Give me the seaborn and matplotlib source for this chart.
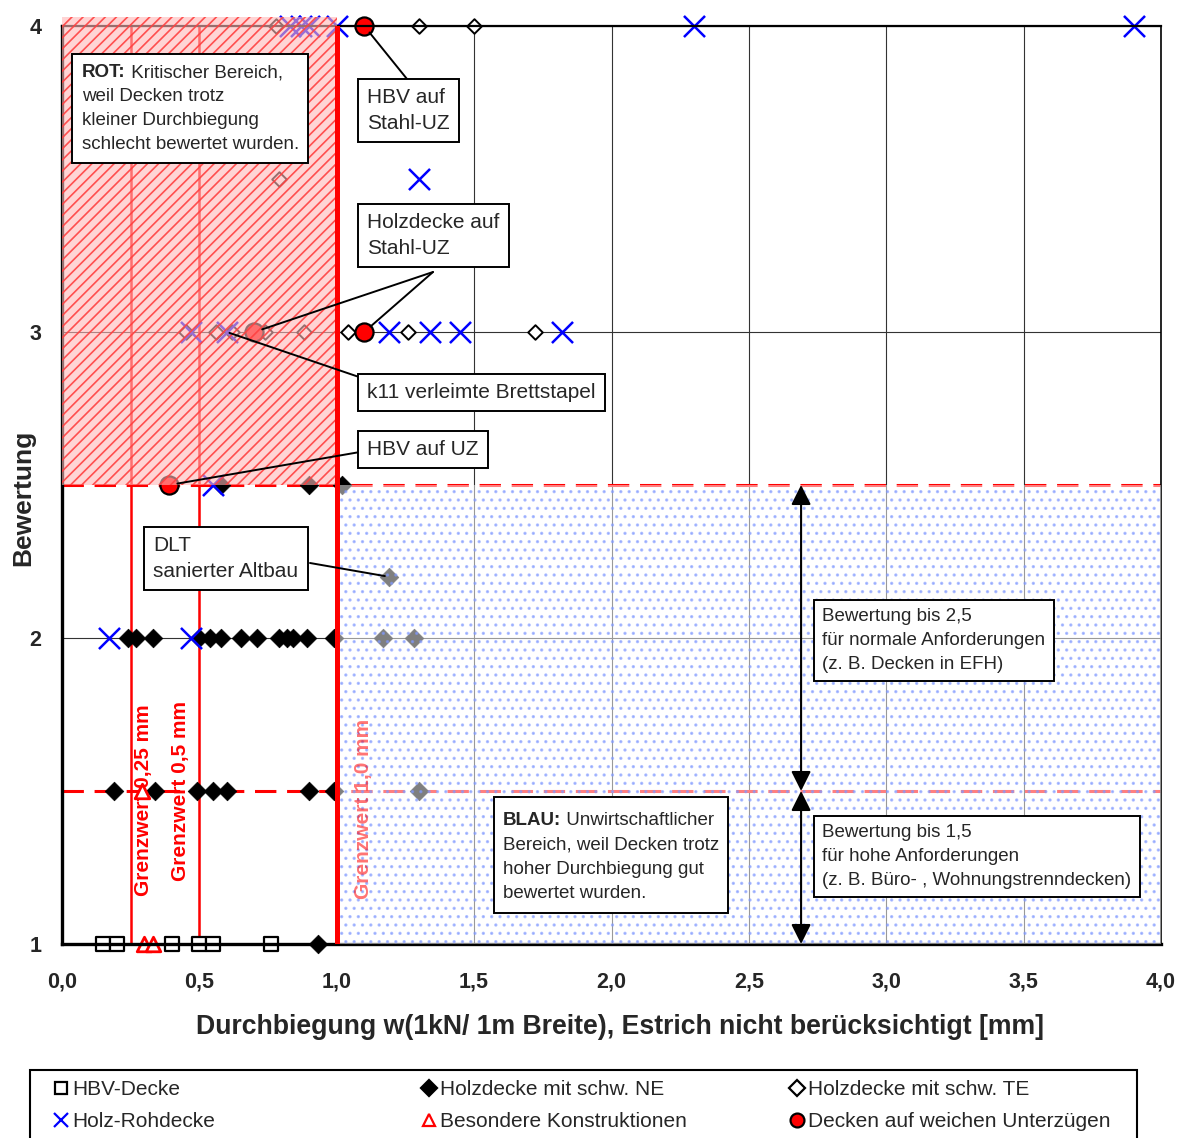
import pandas as pd
import matplotlib
matplotlib.use('Agg')
import matplotlib.pyplot as plt
from matplotlib.patches import Rectangle
from matplotlib.lines import Line2D
from matplotlib.ticker import MultipleLocator, FuncFormatter
import seaborn as sns

# Durchbiegung w [mm] und Bewertung je Deckentyp
hbv_w = [0.15, 0.20, 0.40, 0.50, 0.55, 0.76]
hbv_b = [1, 1, 1, 1, 1, 1]

ne_w = [0.58, 0.90, 1.02, 1.19,
        0.24, 0.27, 0.33, 0.50, 0.54, 0.58, 0.65, 0.71, 0.79, 0.82, 0.84, 0.89, 0.99, 1.17, 1.28,
        0.19, 0.34, 0.49, 0.55, 0.60, 0.90, 0.99, 1.30,
        0.93]
ne_b = [2.5, 2.5, 2.5, 2.2,
        2, 2, 2, 2, 2, 2, 2, 2, 2, 2, 2, 2, 2, 2, 2,
        1.5, 1.5, 1.5, 1.5, 1.5, 1.5, 1.5, 1.5,
        1]

te_w = [0.78, 1.30, 1.50, 0.79, 0.45, 0.56, 0.62, 0.74, 0.88, 1.04, 1.26, 1.72]
te_b = [4, 4, 4, 3.5, 3, 3, 3, 3, 3, 3, 3, 3]

roh_w = [0.83, 0.87, 0.90, 1.00, 2.30, 3.90, 1.30, 0.47, 0.60, 1.19, 1.34, 1.45, 1.82, 0.55, 0.17, 0.47]
roh_b = [4, 4, 4, 4, 4, 4, 3.5, 3, 3, 3, 3, 3, 3, 2.5, 2, 2]

bes_w = [0.30, 0.33, 0.29]
bes_b = [1, 1, 1.5]

uz_w = [1.10, 0.70, 1.10, 0.39]
uz_b = [4, 3, 3, 2.5]

grenzwerte = [0.25, 0.5, 1.0]
grenz_labels = ['Grenzwert 0,25 mm', 'Grenzwert 0,5 mm', 'Grenzwert 1,0 mm']
bewertung_grenzen = [2.5, 1.5]

typen = ['HBV-Decke', 'Holzdecke mit schw. NE', 'Holzdecke mit schw. TE',
         'Holz-Rohdecke', 'Besondere Konstruktionen', 'Decken auf weichen Unterzügen']

df = pd.concat([
    pd.DataFrame({'w': hbv_w, 'b': hbv_b, 'typ': typen[0]}),
    pd.DataFrame({'w': ne_w, 'b': ne_b, 'typ': typen[1]}),
    pd.DataFrame({'w': te_w, 'b': te_b, 'typ': typen[2]}),
    pd.DataFrame({'w': roh_w, 'b': roh_b, 'typ': typen[3]}),
    pd.DataFrame({'w': bes_w, 'b': bes_b, 'typ': typen[4]}),
    pd.DataFrame({'w': uz_w, 'b': uz_b, 'typ': typen[5]}),
], ignore_index=True)

sns.set_theme(style='white')
plt.rcParams['font.family'] = ['Liberation Sans', 'DejaVu Sans']
plt.rcParams['hatch.linewidth'] = 1.2

W, H = 1182, 1138
fig = plt.figure(figsize=(W / 100, H / 100), dpi=100)
ax = fig.add_axes([62 / W, 1 - 944 / H, 1099 / W, 918 / H])


def px(xp, yp):
    # Pixel im Bild -> Datenkoordinaten
    return (xp - 62) / 274.75, 1 + (944 - yp) / 306


# Punktstile
stile = {
    typen[0]: dict(marker='s', color='white', edgecolor='black', s=90, linewidth=1.6),
    typen[1]: dict(marker='D', color='black', edgecolor='black', s=90, linewidth=0.5),
    typen[2]: dict(marker='D', color='white', edgecolor='black', s=55, linewidth=1.4),
    typen[3]: dict(marker='x', color='blue', s=230, linewidth=1.8),
    typen[4]: dict(marker='^', color='white', edgecolor='red', s=110, linewidth=2),
    typen[5]: dict(marker='o', color='red', edgecolor='black', s=170, linewidth=1.6),
}
for t in typen:
    sns.scatterplot(data=df[df.typ == t], x='w', y='b', ax=ax, clip_on=False,
                    zorder=2, legend=False, **stile[t])

ax.set_xlim(0, 4)
ax.set_ylim(1, 4)
ax.xaxis.set_major_locator(MultipleLocator(0.5))
ax.yaxis.set_major_locator(MultipleLocator(1))
ax.xaxis.set_major_formatter(FuncFormatter(lambda v, p: f'{v:.1f}'.replace('.', ',')))
ax.grid(True, color='#333333', linewidth=0.8, zorder=0.5)
ax.set_axisbelow(True)
ax.tick_params(axis='both', length=0, labelsize=15.5)
ax.tick_params(axis='x', pad=20)
ax.tick_params(axis='y', pad=15)
for lab in ax.get_xticklabels() + ax.get_yticklabels():
    lab.set_fontweight('bold')

for side, lw in [('left', 2.4), ('bottom', 2.4), ('top', 1.6), ('right', 1.2)]:
    ax.spines[side].set_color('black')
    ax.spines[side].set_linewidth(lw)

ax.set_xlabel('Durchbiegung w(1kN/ 1m Breite), Estrich nicht berücksichtigt [mm]',
              fontsize=19.2, fontweight='bold')
ax.set_ylabel('Bewertung', fontsize=19, fontweight='bold')
ax.xaxis.set_label_coords(0.508, -0.076)
ax.yaxis.set_label_coords(-0.024, 0.486)

# Grenzwertlinien
ax.axvline(grenzwerte[0], color='red', lw=1.8, zorder=1.8)
ax.axvline(grenzwerte[1], color='red', lw=1.8, zorder=1.8)
ax.axvline(grenzwerte[2], color='red', lw=3.6, zorder=3.5)
for g in bewertung_grenzen:
    ax.axhline(g, color='red', lw=2.2, dashes=(7, 3.5), zorder=1.8)

ax.text(grenzwerte[0] + 0.045, 1.47, grenz_labels[0], rotation=90, color='red',
        fontsize=15, fontweight='bold', ha='center', va='center', zorder=1.9)
ax.text(grenzwerte[1] - 0.067, 1.50, grenz_labels[1], rotation=90, color='red',
        fontsize=15, fontweight='bold', ha='center', va='center', zorder=1.9)
ax.text(grenzwerte[2] + 0.096, 1.44, grenz_labels[2], rotation=90, color='red', alpha=0.55,
        fontsize=15, fontweight='bold', ha='center', va='center', zorder=3.2)

# Bereiche ROT / BLAU
ax.add_patch(Rectangle((0, bewertung_grenzen[0]), grenzwerte[2], 4.03 - bewertung_grenzen[0],
                       facecolor=(1, 0.72, 0.72, 0.6), edgecolor=(1, 0.25, 0.25, 0.9),
                       hatch='///', lw=0, zorder=3, clip_on=False))
ax.add_patch(Rectangle((grenzwerte[2], 1), 4 - grenzwerte[2], bewertung_grenzen[0] - 1,
                       facecolor=(1, 1, 1, 0.5), edgecolor=(0.5, 0.6, 1, 0.6),
                       hatch='..', lw=0, zorder=3))

box = dict(boxstyle='square,pad=0.45', facecolor='white', edgecolor='black', linewidth=1.4)


def kasten(xp, yp, txt, fs, ls=1.45):
    x, y = px(xp, yp)
    ax.text(x, y, txt, fontsize=fs, ha='left', va='top', linespacing=ls,
            bbox=box, zorder=6)


renderer = fig.canvas.get_renderer()


def kasten_fett(rahmen, xp, basis, fett, zeilen, fs=13.5, schritt=24):
    # Rahmen als Rechteck, fettes Anfangswort + normaler Text, Zeile fuer Zeile
    l, o, r, u = rahmen
    x0, y0 = px(l, u)
    x1, y1 = px(r, o)
    ax.add_patch(Rectangle((x0, y0), x1 - x0, y1 - y0, facecolor='white',
                           edgecolor='black', lw=1.4, zorder=5.5))
    t1 = ax.text(*px(xp, basis), fett, fontsize=fs, fontweight='bold',
                 ha='left', va='baseline', zorder=6)
    ext = t1.get_window_extent(renderer)
    xr = ax.transData.inverted().transform((ext.x1, ext.y0))[0]
    ax.text(xr, px(xp, basis)[1], zeilen[0], fontsize=fs, ha='left',
            va='baseline', zorder=6)
    for i, z in enumerate(zeilen[1:], start=1):
        ax.text(*px(xp, basis + i * schritt), z, fontsize=fs, ha='left',
                va='baseline', zorder=6)


def linie(start, ziel, shrink=0):
    ax.annotate('', xy=ziel, xytext=px(*start),
                arrowprops=dict(arrowstyle='-', color='black', lw=1.4,
                                shrinkA=0, shrinkB=shrink), zorder=5)


kasten_fett((72, 54, 308, 163), 82, 77, 'ROT:',
            [' Kritischer Bereich,', 'weil Decken trotz', 'kleiner Durchbiegung',
             'schlecht bewertet wurden.'])
kasten_fett((494, 797, 728, 913), 503, 825, 'BLAU:',
            [' Unwirtschaftlicher', 'Bereich, weil Decken trotz', 'hoher Durchbiegung gut',
             'bewertet wurden.'], schritt=24.3)
kasten(367, 88, 'HBV auf\nStahl-UZ', 15)
kasten(367, 213, 'Holzdecke auf\nStahl-UZ', 15)
kasten(367, 383, 'k11 verleimte Brettstapel', 15)
kasten(367, 440, 'HBV auf UZ', 15)
kasten(153, 536, 'DLT\nsanierter Altbau', 15)
kasten(822, 608, 'Bewertung bis 2,5\nfür normale Anforderungen\n(z. B. Decken in EFH)', 13.5, 1.53)
kasten(822, 824, 'Bewertung bis 1,5\nfür hohe Anforderungen\n(z. B. Büro- , Wohnungstrenndecken)', 13.5, 1.53)

linie((407, 79), (uz_w[0], uz_b[0]), 6)
linie((433, 272), (uz_w[2], uz_b[2]), 6)
linie((433, 272), (uz_w[1], uz_b[1]), 6)
linie((362, 378), (roh_w[8], roh_b[8]), 2)
linie((360, 452), (uz_w[3], uz_b[3]), 6)
linie((310, 563), (ne_w[3], ne_b[3]), 3)

# Doppelpfeile
pfeil_x = 2.69
for y0, y1 in [(bewertung_grenzen[0], bewertung_grenzen[1]), (bewertung_grenzen[1], 1)]:
    ax.annotate('', xy=(pfeil_x, y1), xytext=(pfeil_x, y0),
                arrowprops=dict(arrowstyle='<|-|>,head_length=0.6,head_width=0.3',
                                color='black', lw=1.5, shrinkA=0, shrinkB=0,
                                mutation_scale=20), zorder=5, annotation_clip=False)

# Legende
fig.patches.append(Rectangle((30 / W, -0.01), 1107 / W, 0.01 + 1 - 1070 / H,
                             transform=fig.transFigure, fill=False,
                             edgecolor='black', linewidth=1.5))


def hdl(t):
    st = stile[t]
    ms = {'D': 8, 's': 9, 'x': 10, '^': 9, 'o': 10}[st['marker']]
    return Line2D([], [], linestyle='none', marker=st['marker'], markersize=ms,
                  markerfacecolor=st['color'] if st['marker'] != 'x' else 'blue',
                  markeredgecolor=st.get('edgecolor', st['color']),
                  markeredgewidth=1.6)


spalten = [(62, [typen[0], typen[3]]), (430, [typen[1], typen[4]]), (798, [typen[2], typen[5]])]
for xp, eintraege in spalten:
    fig.legend([hdl(t) for t in eintraege], eintraege, loc='upper left',
               bbox_to_anchor=((xp - 9) / W, 1 - 1080 / H), frameon=False, fontsize=15,
               handlelength=0.8, handletextpad=0.12, labelspacing=0.62,
               borderpad=0, borderaxespad=0)

fig.savefig('out.png', dpi=100)
